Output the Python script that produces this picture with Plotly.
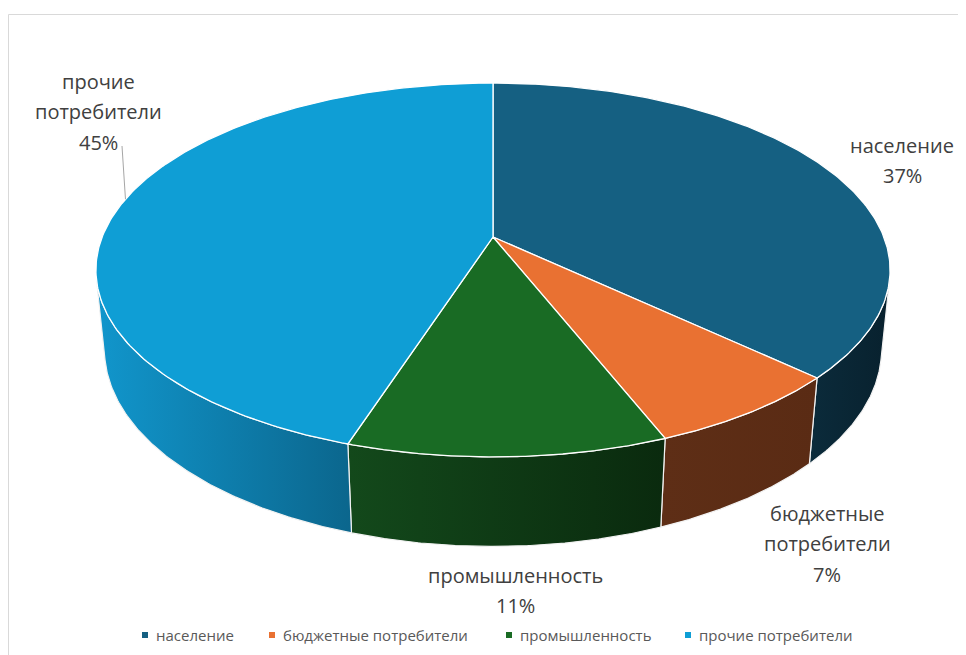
import numpy as np
import plotly.graph_objects as go

# ---------------- data ----------------
categories = ["население", "бюджетные потребители", "промышленность", "прочие потребители"]
values = [37, 7, 11, 45]
label_lines = [["население"], ["бюджетные", "потребители"], ["промышленность"], ["прочие", "потребители"]]

# ---------------- style ----------------
top_colors = ["#156082", "#E97132", "#196B24", "#0F9ED5"]
wall_colors = [["#0b2b3b", "#08212e"], ["#5e2e16", "#5a2b14"], ["#13491b", "#0a2a0e"], ["#1196cc", "#0b668d"]]
# (center x, first line y) for each data label
label_pos = [(902, 145), (827, 513), (515, 575), (98, 81)]
LINE_H = 30.5
legend_x = [145, 272, 509, 688]   # marker centres
LEGEND_Y = 635
FONT = "Open Sans"

# page body has an 8 px margin: make data units equal screen pixels
OFF = 8
W, H = 966, 655

# perspective projection of a tilted disc (Excel-like 3-D pie)
CX, CY = 493.0, 237.0
ALPHA = np.radians(27.6)
DIST = 5.02
FOC = 1962.0
DEPTH = 0.232


def proj(theta, z):
    X = np.sin(theta)
    Y = np.cos(theta)
    d = DIST + Y * np.cos(ALPHA) - z * np.sin(ALPHA)
    up = Y * np.sin(ALPHA) + z * np.cos(ALPHA)
    return CX + FOC * X / d, CY - FOC * up / d


total = float(sum(values))
cum = np.concatenate([[0], np.cumsum(values)]) / total * 2 * np.pi
lim = np.arccos(-1.0 / (DIST * np.cos(ALPHA)))
vis_lo, vis_hi = lim, 2 * np.pi - lim

fig = go.Figure()

# side walls (visible front part)
for i in range(len(values)):
    a, b = cum[i], cum[i + 1]
    lo, hi = max(a, vis_lo), min(b, vis_hi)
    if hi <= lo:
        continue
    t = np.linspace(lo, hi, 120)
    xt, yt = proj(t, 0.0)
    xb, yb = proj(t[::-1], -DEPTH)
    xs = np.concatenate([xt, xb, xt[:1]])
    ys = np.concatenate([yt, yb, yt[:1]])
    fig.add_trace(go.Scatter(
        x=xs, y=ys, mode="lines", fill="toself",
        fillgradient=dict(type="horizontal",
                          colorscale=[[0, wall_colors[i][0]], [1, wall_colors[i][1]]]),
        line=dict(color="#f2f2f2", width=1.2),
        hoverinfo="skip", showlegend=False))

# top faces
for i in range(len(values)):
    a, b = cum[i], cum[i + 1]
    t = np.linspace(a, b, 200)
    xa, ya = proj(t, 0.0)
    xs = np.concatenate([[CX], xa, [CX]])
    ys = np.concatenate([[CY], ya, [CY]])
    fig.add_trace(go.Scatter(
        x=xs, y=ys, mode="lines", fill="toself", fillcolor=top_colors[i],
        line=dict(color="#ffffff", width=1.3),
        hoverinfo="skip", showlegend=False))

# data labels (one annotation per line for Excel-like line spacing)
for i in range(len(values)):
    pct = round(values[i] / total * 100)
    lines = label_lines[i] + [f"{pct}%"]
    for k, ln in enumerate(lines):
        fig.add_annotation(x=label_pos[i][0], y=label_pos[i][1] + k * LINE_H, text=ln,
                           showarrow=False, xref="x", yref="y", xanchor="center", yanchor="middle",
                           font=dict(family=FONT, size=20, color="#404040"))

# leader line for the last label
lx, ly = proj(np.radians(282.5), 0.0)
fig.add_shape(type="line", xref="x", yref="y", x0=122, y0=146, x1=float(lx), y1=float(ly),
              line=dict(color="#a6a6a6", width=1))

# legend (square swatch + text)
for i, name in enumerate(categories):
    fig.add_shape(type="rect", xref="x", yref="y",
                  x0=legend_x[i] - 3, x1=legend_x[i] + 3, y0=LEGEND_Y - 3, y1=LEGEND_Y + 3,
                  fillcolor=top_colors[i], line=dict(width=0))
    fig.add_annotation(x=legend_x[i] + 9, y=LEGEND_Y, text=name, showarrow=False,
                       xref="x", yref="y", xanchor="left", yanchor="middle",
                       font=dict(family=FONT, size=15, color="#595959"))

# chart-area border
fig.add_shape(type="rect", xref="x", yref="y", x0=8.5, y0=14.5, x1=1100, y1=800,
              line=dict(color="#d9d9d9", width=1), layer="below")

fig.update_layout(
    width=W - OFF, height=H - OFF, autosize=False,
    margin=dict(l=0, r=0, t=0, b=0, pad=0),
    paper_bgcolor="white", plot_bgcolor="white",
    xaxis=dict(range=[OFF, W], visible=False, fixedrange=True),
    yaxis=dict(range=[H, OFF], visible=False, fixedrange=True),
    showlegend=False,
)

fig.write_html("out.html")
